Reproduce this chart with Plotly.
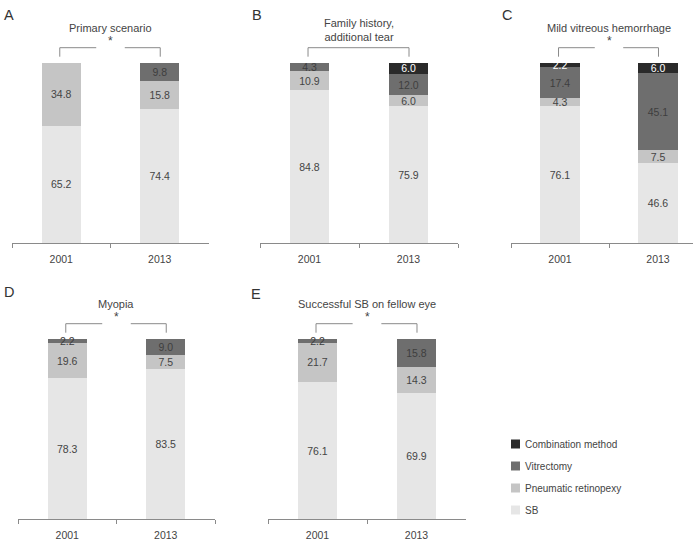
import plotly.graph_objects as go

# ---------------- data ----------------
years = ["2001", "2013"]
series_names = ["SB", "Pneumatic retinopexy", "Vitrectomy", "Combination method"]
panel_letters = ["A", "B", "C", "D", "E"]
panel_titles = ["Primary scenario", "Family history,<br>additional tear",
                "Mild vitreous hemorrhage", "Myopia", "Successful SB on fellow eye"]
panel_signif = [True, False, True, True, True]

sb_values = [[65.2, 74.4], [84.8, 75.9], [76.1, 46.6], [78.3, 83.5], [76.1, 69.9]]
pr_values = [[34.8, 15.8], [10.9, 6.0], [4.3, 7.5], [19.6, 7.5], [21.7, 14.3]]
vit_values = [[0, 9.8], [4.3, 12.0], [17.4, 45.1], [2.2, 9.0], [2.2, 15.8]]
comb_values = [[0, 0], [0, 6.0], [2.2, 6.0], [0, 0], [0, 0]]

# ---------------- styles ----------------
colors = ["#e6e6e6", "#c5c5c5", "#6e6e6e", "#2a2a2a"]
text_colors = ["#444444", "#444444", "#3e3e3e", "#ffffff"]
FONT = "Liberation Sans, Arial, Helvetica, sans-serif"
W, H = 693, 545
AXC = "#8a8a8a"

# panel pixel geometry: (axis left, axis right, axis baseline y)
geom = [(12, 209, 243), (260, 458, 243), (511, 707, 243), (18, 215, 519), (268, 466, 519)]
PPU = 1.8          # pixels per percentage point
YMAX = 110


def px(x):
    return x / W


def py(y):
    return 1 - y / H


fig = go.Figure()
all_values = [sb_values, pr_values, vit_values, comb_values]
shapes = []
annotations = []

for i in range(5):
    xa = "x" if i == 0 else f"x{i+1}"
    ya = "y" if i == 0 else f"y{i+1}"
    for s in range(4):
        vals = all_values[s][i]
        txt = [f"{v:.1f}" if v else "" for v in vals]
        fig.add_trace(go.Bar(
            x=years, y=vals, name=series_names[s], xaxis=xa, yaxis=ya,
            marker=dict(color=colors[s], line=dict(width=0)),
            width=0.4, text=txt, textposition="inside", insidetextanchor="middle",
            textangle=0, constraintext="none",
            textfont=dict(family=FONT, size=10.5, color=text_colors[s]),
            showlegend=False, hoverinfo="skip",
        ))

    x0, x1, base = geom[i]
    cat = (x1 - x0) / 2.0
    x1v = min(x1, W)
    xr = [-0.5, -0.5 + (x1v - x0) / cat]
    top = base - YMAX * PPU
    axname = "xaxis" if i == 0 else f"xaxis{i+1}"
    ayname = "yaxis" if i == 0 else f"yaxis{i+1}"
    fig.layout[axname] = dict(
        domain=[px(x0), px(x1v)], anchor=ya, type="category", range=xr,
        tickson="boundaries", ticks="outside", ticklen=4, tickcolor=AXC, tickwidth=1,
        showline=True, linecolor=AXC, linewidth=1, showgrid=False, zeroline=False,
        tickfont=dict(family=FONT, size=10.5, color="#444444"), fixedrange=True,
        ticklabelstandoff=6,
    )
    fig.layout[ayname] = dict(
        domain=[py(base), py(top)], anchor=xa, range=[0, YMAX], visible=False,
        fixedrange=True,
    )

    # bracket
    lc = dict(color=AXC, width=1)
    yb, yt = 103.5, 108.5
    cx = x0 + cat
    if panel_signif[i]:
        shapes.append(dict(type="path", xref=xa, yref=ya,
                           path=f"M -0.015 {yb} L -0.015 {yt} L 0.355 {yt}", line=lc))
        shapes.append(dict(type="path", xref=xa, yref=ya,
                           path=f"M 0.645 {yt} L 1.005 {yt} L 1.005 {yb}", line=lc))
        sy = 41 if i < 3 else 317
        annotations.append(dict(x=px(cx), y=py(sy), xref="paper", yref="paper", text="*",
                                showarrow=False, font=dict(family=FONT, size=12, color="#444444"),
                                xanchor="center", yanchor="middle"))
    else:
        shapes.append(dict(type="path", xref=xa, yref=ya,
                           path=f"M -0.015 {yb} L -0.015 {yt} L 1.005 {yt} L 1.005 {yb}", line=lc))

    # titles
    if i == 1:
        ty = 29.5
    elif i < 3:
        ty = 28
    else:
        ty = 304
    annotations.append(dict(x=px(cx), y=py(ty), xref="paper", yref="paper",
                            text=panel_titles[i], showarrow=False,
                            font=dict(family=FONT, size=11, color="#444444"),
                            xanchor="center", yanchor="middle"))

# panel letters
letter_pos = [(2, 15), (250, 15), (500, 15), (2, 292), (249, 294)]
for (lx, ly), L in zip(letter_pos, panel_letters):
    annotations.append(dict(x=px(lx), y=py(ly), xref="paper", yref="paper", text=L,
                            showarrow=False, xanchor="left", yanchor="middle",
                            font=dict(family=FONT, size=14.5, color="#333333")))

# manual legend
leg_y = [510, 488, 466, 444]
for s in range(4):
    yy = leg_y[s]
    shapes.append(dict(type="rect", xref="paper", yref="paper",
                       x0=px(511), x1=px(520), y0=py(yy + 4.5), y1=py(yy - 4.5),
                       fillcolor=colors[s], line=dict(width=0)))
    annotations.append(dict(x=px(523), y=py(yy), xref="paper", yref="paper",
                            text=series_names[s], showarrow=False, xanchor="left",
                            yanchor="middle", font=dict(family=FONT, size=10, color="#444444")))

fig.update_layout(
    width=W, height=H, margin=dict(l=0, r=0, t=0, b=0),
    paper_bgcolor="white", plot_bgcolor="white",
    barmode="stack", barnorm="percent", showlegend=False,
    shapes=shapes, annotations=annotations,
)

fig.write_html("out.html")
